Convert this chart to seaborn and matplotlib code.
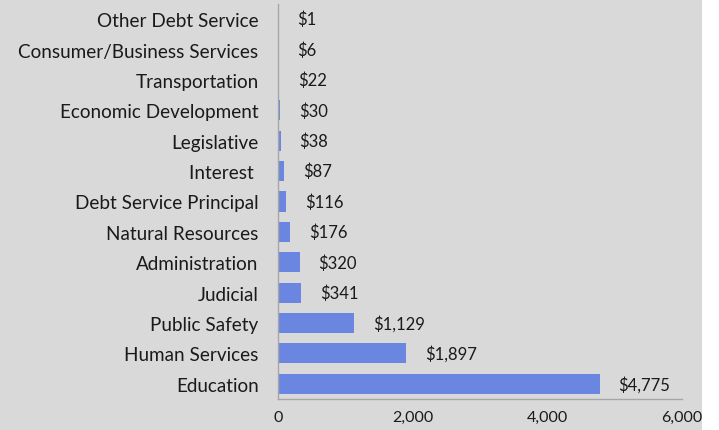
import matplotlib
matplotlib.use("Agg")
import matplotlib.pyplot as plt
import seaborn as sns
import pandas as pd
from matplotlib.patches import Rectangle
from matplotlib.ticker import FuncFormatter

# Data (spending by function)
categories = ["Other Debt Service", "Consumer/Business Services", "Transportation",
              "Economic Development", "Legislative", "Interest ", "Debt Service Principal",
              "Natural Resources", "Administration", "Judicial", "Public Safety",
              "Human Services", "Education"]
values = [1, 6, 22, 30, 38, 87, 116, 176, 320, 341, 1129, 1897, 4775]
x_ticks = [0, 2000, 4000, 6000]

df = pd.DataFrame({"category": categories, "amount": values})

sns.set_style("white")
plt.rcParams["font.family"] = ["Lato", "DejaVu Sans"]

bg = "#d9d9d9"
bar_color = "#6a86e0"
text_color = "#1a1a1a"

fig = plt.figure(figsize=(7.19, 4.31), dpi=100, facecolor="white")
# gray chart area, white strip on the right edge
fig.patches.append(Rectangle((0, 0), 702 / 719, 1, transform=fig.transFigure,
                             facecolor=bg, edgecolor="none", zorder=-1))

ax = fig.add_axes([278 / 719, 31 / 431, 404 / 719, 395 / 431])
ax.set_facecolor(bg)
ax.patch.set_alpha(0)

sns.barplot(data=df, x="amount", y="category", order=categories, color=bar_color,
            saturation=1, width=0.66, linewidth=0, ax=ax)

ax.set_xlim(0, 6000)
ax.set_ylim(len(categories) - 0.5, -0.5)
ax.set_xticks(x_ticks)
ax.xaxis.set_major_formatter(FuncFormatter(lambda v, p: f"{int(v):,}"))
ax.set_xlabel("")
ax.set_ylabel("")

for side in ["top", "right"]:
    ax.spines[side].set_visible(False)
for side in ["left", "bottom"]:
    ax.spines[side].set_color("#a6a6a6")
    ax.spines[side].set_linewidth(1)

ax.tick_params(axis="y", length=0, pad=14, labelsize=13.6, labelcolor=text_color)
ax.tick_params(axis="x", length=0, pad=8, labelsize=11.5, labelcolor=text_color)

# value labels to the right of the bars
for i, v in enumerate(values):
    ax.annotate(f"${v:,}", xy=(v, i), xytext=(19, 0), textcoords="offset pixels",
                ha="left", va="center", fontsize=12, color=text_color)

fig.savefig("out.png", dpi=100, facecolor=fig.get_facecolor())
